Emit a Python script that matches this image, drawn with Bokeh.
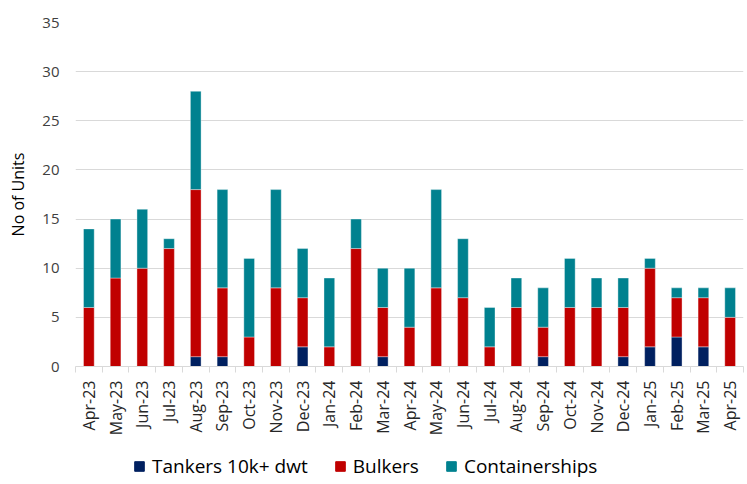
from bokeh.plotting import figure
from bokeh.layouts import column
from bokeh.models import ColumnDataSource, Range1d, FixedTicker, Legend, LegendItem
from bokeh.embed import file_html
from bokeh.resources import INLINE

months = ["Apr-23", "May-23", "Jun-23", "Jul-23", "Aug-23", "Sep-23", "Oct-23", "Nov-23",
          "Dec-23", "Jan-24", "Feb-24", "Mar-24", "Apr-24", "May-24", "Jun-24", "Jul-24",
          "Aug-24", "Sep-24", "Oct-24", "Nov-24", "Dec-24", "Jan-25", "Feb-25", "Mar-25", "Apr-25"]
tankers = [0, 0, 0, 0, 1, 1, 0, 0, 2, 0, 0, 1, 0, 0, 0, 0, 0, 1, 0, 0, 1, 2, 3, 2, 0]
bulkers = [6, 9, 10, 12, 17, 7, 3, 8, 5, 2, 12, 5, 4, 8, 7, 2, 6, 3, 6, 6, 5, 8, 4, 5, 5]
containers = [8, 6, 6, 1, 10, 10, 8, 10, 5, 7, 3, 4, 6, 10, 6, 4, 3, 4, 5, 3, 3, 1, 1, 1, 3]
series = ["Tankers 10k+ dwt", "Bulkers", "Containerships"]
colors = ["#002060", "#C00000", "#00818F"]
y_ticks = [0, 5, 10, 15, 20, 25, 30, 35]

xs = list(range(len(months)))
src = ColumnDataSource(dict(x=xs, t=tankers, b=bulkers, c=containers))

p = figure(width=745, height=438, output_backend="svg", toolbar_location=None,
           x_range=Range1d(-0.5, len(months) - 0.5), y_range=Range1d(0, 35),
           min_border_left=75, min_border_right=2, min_border_top=22, min_border_bottom=0)

rs = p.vbar_stack(["t", "b", "c"], x="x", width=0.4, source=src, color=colors,
                  line_color="white", line_alpha=0.6, line_width=0.6)

p.xaxis.ticker = FixedTicker(ticks=xs, minor_ticks=[i - 0.5 for i in range(len(months) + 1)])
p.xaxis.major_label_overrides = {i: m for i, m in enumerate(months)}
p.xaxis.major_label_orientation = 1.5708
p.xaxis.major_tick_line_color = None
p.xaxis.major_tick_out = 6
p.xaxis.minor_tick_line_color = "#d9d9d9"
p.xaxis.minor_tick_in = 0
p.xaxis.minor_tick_out = 6
p.xaxis.axis_line_color = "#d9d9d9"
p.xaxis.major_label_text_font = "Open Sans"
p.xaxis.major_label_text_font_size = "16px"
p.xaxis.major_label_text_color = "#262626"
p.xaxis.major_label_standoff = 8

p.yaxis.ticker = FixedTicker(ticks=y_ticks)
p.yaxis.axis_line_color = None
p.yaxis.major_tick_line_color = None
p.yaxis.major_tick_out = 0
p.yaxis.minor_tick_line_color = None
p.yaxis.major_label_standoff = 16
p.yaxis.major_label_text_font = "Open Sans"
p.yaxis.major_label_text_font_size = "15px"
p.yaxis.major_label_text_color = "#404040"
p.yaxis.axis_label = "No of Units"
p.yaxis.axis_label_text_font = "Open Sans"
p.yaxis.axis_label_text_font_style = "normal"
p.yaxis.axis_label_text_font_size = "16px"
p.yaxis.axis_label_text_color = "#000000"
p.yaxis.axis_label_standoff = 10

p.xgrid.grid_line_color = None
p.ygrid.grid_line_color = "#d9d9d9"
p.ygrid.grid_line_width = 1
p.outline_line_color = None

# legend strip: a separate small figure holding only the legend
# (its ranges keep its own bars far out of view, only the legend shows)
lp = figure(width=745, height=46, output_backend="svg", toolbar_location=None,
            x_range=Range1d(1000, 1001), y_range=Range1d(1000, 1001),
            x_axis_location=None, y_axis_location=None,
            min_border_left=0, min_border_right=0, min_border_top=0, min_border_bottom=0)
lp.grid.grid_line_color = None
lp.outline_line_color = None
swatches = lp.vbar_stack(["t", "b", "c"], x="x", width=0.4, source=src, color=colors)

legend = Legend(items=[LegendItem(label=s, renderers=[r]) for s, r in zip(series, swatches)],
                orientation="horizontal", location=(58, 5))
legend.label_text_font = "Open Sans"
legend.label_text_font_size = "19px"
legend.label_text_color = "#000000"
legend.glyph_width = 12
legend.glyph_height = 12
legend.spacing = 26
legend.label_standoff = 7
legend.border_line_color = None
legend.background_fill_alpha = 0
legend.margin = 0
legend.padding = 0
lp.add_layout(legend, "center")

layout = column(p, lp, spacing=0)
open("out.html", "w").write(file_html(layout, INLINE))
